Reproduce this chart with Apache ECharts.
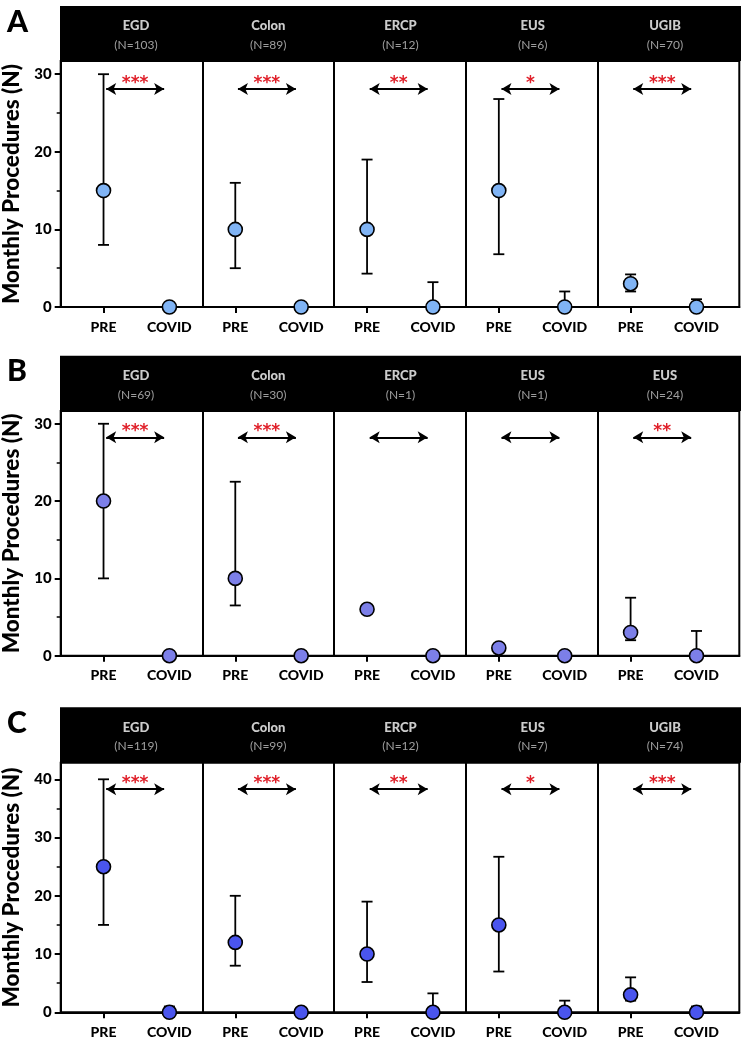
<!DOCTYPE html>
<html><head><meta charset="utf-8">
<script src="https://cdn.jsdelivr.net/npm/echarts@6/dist/echarts.min.js"></script>
<style>html,body{margin:0;padding:0;background:#fff}#c{width:749px;height:1042px}</style>
</head><body><div id="c"></div>
<script>
// ---- data ----
const groups = ['PRE', 'COVID'];
const panelLetters = ['A', 'B', 'C'];
const yAxisTitle = 'Monthly Procedures (N)';

const procsA = ['EGD', 'Colon', 'ERCP', 'EUS', 'UGIB'];
const nA = [103, 89, 12, 6, 70];
const meanA = [[15, 0], [10, 0], [10, 0], [15, 0], [3, 0]];
const lowA = [[8, 0], [5, 0], [4.3, 0], [6.8, 0], [2, 0]];
const highA = [[30, 0], [16, 0], [19, 3.2], [26.8, 2], [4.2, 1]];
const sigA = ['***', '***', '**', '*', '***'];
const ticksA = [0, 10, 20, 30];
const minorA = [5, 15, 25];

const procsB = ['EGD', 'Colon', 'ERCP', 'EUS', 'EUS'];
const nB = [69, 30, 1, 1, 24];
const meanB = [[20, 0], [10, 0], [6, 0], [1, 0], [3, 0]];
const lowB = [[10, 0], [6.5, 0], [6, 0], [1, 0], [2, 0]];
const highB = [[30, 0], [22.5, 0], [6, 0], [1, 0], [7.5, 3.2]];
const sigB = ['***', '***', '', '', '**'];
const ticksB = [0, 10, 20, 30];
const minorB = [5, 15, 25];

const procsC = ['EGD', 'Colon', 'ERCP', 'EUS', 'UGIB'];
const nC = [119, 99, 12, 7, 74];
const meanC = [[25, 0], [12, 0], [10, 0], [15, 0], [3, 0]];
const lowC = [[15, 0], [8, 0], [5.2, 0], [7, 0], [2, 0]];
const highC = [[40, 1], [20, 0], [19, 3.25], [26.7, 2], [6, 1]];
const sigC = ['***', '***', '**', '*', '***'];
const ticksC = [0, 10, 20, 30, 40];
const minorC = [5, 15, 25, 35];

// ---- layout / style ----
const rows = [
  {procs: procsA, n: nA, mean: meanA, low: lowA, high: highA, sig: sigA, ticks: ticksA, minor: minorA,
   color: '#80b4f5', yMax: 31.7, arrowY: 28.1, headTop: 6, plotTop: 61, plotBottom: 307},
  {procs: procsB, n: nB, mean: meanB, low: lowB, high: highB, sig: sigB, ticks: ticksB, minor: minorB,
   color: '#7c7fe8', yMax: 31.65, arrowY: 28.25, headTop: 355.7, plotTop: 411, plotBottom: 655.7},
  {procs: procsC, n: nC, mean: meanC, low: lowC, high: highC, sig: sigC, ticks: ticksC, minor: minorC,
   color: '#4a55ee', yMax: 42.85, arrowY: 38.3, headTop: 707.3, plotTop: 762.7, plotBottom: 1012.3}
];
const FONT = 'Lato';
const X_MIN = -0.65, X_MAX = 9.65;
const CAP = 5.5;

const grid = [], xAxis = [], yAxis = [], series = [], title = [];

rows.forEach((r, ri) => {
  const gPlot = grid.length;
  grid.push({left: 60.7, right: 9.7, top: r.plotTop, height: r.plotBottom - r.plotTop,
    outerBoundsMode: 'none', containLabel: false,
    show: true, borderColor: '#000', borderWidth: 2, backgroundColor: '#fff'});
  const gHead = grid.length;
  grid.push({left: 60, right: 8, top: r.headTop, height: r.plotTop - r.headTop,
    outerBoundsMode: 'none', containLabel: false,
    show: true, backgroundColor: '#000', borderWidth: 0});

  const catIdx = [];
  for (let i = 0; i < r.procs.length * 2; i++) catIdx.push(i);

  const xPlot = xAxis.length;
  xAxis.push({type: 'value', gridIndex: gPlot, min: X_MIN, max: X_MAX,
    axisLine: {show: true, onZero: false, lineStyle: {color: '#000', width: 2}},
    axisTick: {show: true, customValues: catIdx, length: 6, lineStyle: {color: '#000', width: 2}},
    axisLabel: {show: true, customValues: catIdx, margin: 13, color: '#000', fontFamily: FONT,
      fontWeight: 900, fontSize: 14, formatter: v => groups[Math.round(v) % 2]},
    splitLine: {show: false}});
  const xHead = xAxis.length;
  xAxis.push({type: 'value', gridIndex: gHead, min: X_MIN, max: X_MAX, show: false});

  const yPlot = yAxis.length;
  yAxis.push({type: 'value', gridIndex: gPlot, min: 0, max: r.yMax,
    name: yAxisTitle, nameLocation: 'middle', nameGap: 33, nameRotate: 90,
    nameTextStyle: {fontFamily: FONT, fontWeight: 900, fontSize: 22.5, color: '#000'},
    axisLine: {show: true, onZero: false, lineStyle: {color: '#000', width: 2}},
    axisTick: {show: true, customValues: r.ticks, length: 6, lineStyle: {color: '#000', width: 2}},
    axisLabel: {show: true, customValues: r.ticks, margin: 9, color: '#000', fontFamily: FONT,
      fontWeight: 900, fontSize: 15},
    splitLine: {show: false}});
  yAxis.push({type: 'value', gridIndex: gPlot, min: 0, max: r.yMax, position: 'left',
    axisLine: {show: false, onZero: false},
    axisTick: {show: true, customValues: r.minor, length: 4, lineStyle: {color: '#000', width: 1.5}},
    axisLabel: {show: false}, splitLine: {show: false}});
  const yHead = yAxis.length;
  yAxis.push({type: 'value', gridIndex: gHead, min: 0, max: 1, show: false});

  const errData = [], ptData = [], arrows = [];
  r.procs.forEach((p, pi) => {
    for (let g = 0; g < 2; g++) {
      const x = pi * 2 + g;
      errData.push([x, r.low[pi][g], r.high[pi][g], r.mean[pi][g]]);
      ptData.push([x, r.mean[pi][g]]);
    }
    arrows.push([
      {coord: [pi * 2 + 0.04, r.arrowY], label: {formatter: r.sig[pi]}},
      {coord: [pi * 2 + 0.92, r.arrowY]}
    ]);
  });

  series.push({type: 'custom', xAxisIndex: xPlot, yAxisIndex: yPlot, data: errData, z: 3, silent: true,
    renderItem: (params, api) => {
      const x = api.value(0), lo = api.value(1), hi = api.value(2);
      if (hi === lo) return null;
      const a = api.coord([x, lo]), b = api.coord([x, hi]);
      const st = {stroke: '#000', lineWidth: 1.8, fill: null};
      return {type: 'group', children: [
        {type: 'line', shape: {x1: a[0], y1: a[1], x2: b[0], y2: b[1]}, style: st},
        {type: 'line', shape: {x1: b[0] - CAP, y1: b[1], x2: b[0] + CAP, y2: b[1]}, style: st},
        {type: 'line', shape: {x1: a[0] - CAP, y1: a[1], x2: a[0] + CAP, y2: a[1]}, style: st}
      ]};
    },
    markLine: {silent: true, symbol: 'none', animation: false,
      lineStyle: {color: '#000', width: 2, type: 'solid'}, label: {show: false},
      data: [1.5, 3.5, 5.5, 7.5].map(v => ({xAxis: v}))}
  });

  series.push({type: 'scatter', xAxisIndex: xPlot, yAxisIndex: yPlot, data: ptData, z: 5, clip: false,
    symbol: 'circle', symbolSize: 14, silent: true,
    itemStyle: {color: r.color, borderColor: '#000', borderWidth: 1.6, opacity: 1},
    markLine: {silent: true, animation: false, symbol: ['arrow', 'arrow'], symbolSize: [9, 10],
      lineStyle: {color: '#000', width: 1.8, type: 'solid'},
      label: {show: true, position: 'insideMiddleTop', distance: -3, color: '#e0202a',
        fontFamily: 'DejaVu Sans', fontWeight: 'bold', fontSize: 17},
      data: arrows}
  });

  series.push({type: 'scatter', xAxisIndex: xHead, yAxisIndex: yHead, silent: true,
    data: r.procs.map((p, pi) => [pi * 2 + 0.5, 0.5]),
    symbol: 'circle', symbolSize: 1, itemStyle: {color: 'rgba(0,0,0,0)'},
    label: {show: true, position: 'inside', offset: [0, 2],
      formatter: params => '{t|' + r.procs[params.dataIndex] + '}\n{n|(N=' + r.n[params.dataIndex] + ')}',
      rich: {
        t: {fontFamily: FONT, fontWeight: 900, fontSize: 13, color: '#fff', lineHeight: 19, align: 'center'},
        n: {fontFamily: FONT, fontSize: 12, color: '#c4c4c4', lineHeight: 19, align: 'center'}
      }}
  });

  title.push({text: panelLetters[ri], left: 2, top: r.headTop - 4,
    textStyle: {fontFamily: FONT, fontWeight: 900, fontSize: 30, color: '#000'}});
});

const chart = echarts.init(document.getElementById('c'), null, {renderer: 'canvas'});
chart.setOption({animation: false, backgroundColor: '#fff', title, grid, xAxis, yAxis, series});
</script>
</body></html>
